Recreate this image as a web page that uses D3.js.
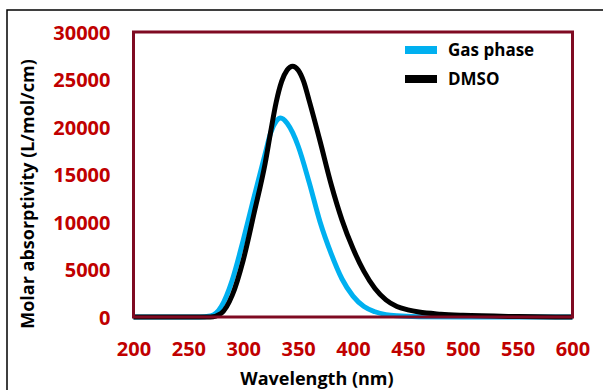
<!DOCTYPE html>
<html><head><meta charset="utf-8">
<script src="https://cdn.jsdelivr.net/npm/d3@7"></script>
<style>body{margin:0;background:#fff}svg{display:block}text{font-family:"Open Sans",sans-serif;font-weight:bold}</style>
</head><body>
<script>
const xTicks = [200,250,300,350,400,450,500,550,600];
const yTicks = [0,5000,10000,15000,20000,25000,30000];
const gasWl  = [200,260,270,280,290,300,310,320,325,330,334,340,345,350,360,370,380,390,400,410,420,430,440,460,500,600];
const gasVal = [0,0,100,1100,3900,8100,12700,17200,19400,20600,20950,20400,19400,18000,14200,10000,6700,4000,2200,1100,550,250,120,30,0,0];
const dmsoWl  = [200,270,280,290,300,310,320,325,330,335,340,345,350,355,360,370,380,390,400,410,420,430,440,450,460,480,500,550,600];
const dmsoVal = [0,0,400,2300,6000,11000,16200,19500,22600,24800,26000,26400,26000,24800,22800,18500,14000,10200,7200,4800,3000,1800,1100,750,520,300,180,50,0];
const seriesNames = ["Gas phase","DMSO"];
const colors = ["#00b0f0","#000000"];

const W=603,H=390;
const svg=d3.select("body").append("svg").attr("width",W).attr("height",H);
// outer border
svg.append("path").attr("d","M7,390 L7,10 L603,10").attr("fill","none").attr("stroke","#000").attr("stroke-width",1.5);

const x=d3.scaleLinear().domain([200,600]).range([133.5,572.5]);
const y=d3.scaleLinear().domain([0,30000]).range([317,32]);

const line=d3.line().x(d=>x(d[0])).y(d=>y(d[1])).curve(d3.curveMonotoneX);
const data=[d3.zip(gasWl,gasVal), d3.zip(dmsoWl,dmsoVal)];

// curves
data.forEach((d,i)=>{
  svg.append("path").datum(d).attr("d",line).attr("fill","none")
    .attr("stroke",colors[i]).attr("stroke-width",5).attr("stroke-linejoin","round");
});

// plot frame
svg.append("rect").attr("x",x(200)).attr("y",y(30000)).attr("width",x(600)-x(200)).attr("height",y(0)-y(30000))
  .attr("fill","none").attr("stroke","#7f0a22").attr("stroke-width",3);

// axes
const xAxis=svg.append("g").attr("transform",`translate(0,${y(0)})`).call(d3.axisBottom(x).tickValues(xTicks).tickSize(0).tickPadding(24));
const yAxis=svg.append("g").attr("transform",`translate(${x(200)},0)`).call(d3.axisLeft(y).tickValues(yTicks).tickSize(0).tickPadding(23).tickFormat(d3.format("d")));
[xAxis,yAxis].forEach(a=>{a.select(".domain").remove();a.selectAll("text").attr("fill","#c00000").attr("font-size",20).attr("font-family","Open Sans").attr("font-weight","bold");});
xAxis.selectAll("text").attr("dy",null).attr("y",39);
yAxis.selectAll("text").attr("dy","0.35em");

// axis titles
svg.append("text").attr("x",317).attr("y",385).attr("text-anchor","middle").attr("font-size",18).attr("fill","#000").text("Wavelength (nm)");
svg.append("text").attr("transform","translate(34,194) rotate(-90)").attr("text-anchor","middle").attr("font-size",18).attr("fill","#000").text("Molar absorptivity (L/mol/cm)");

// legend
seriesNames.forEach((n,i)=>{
  const cy=50+i*29;
  svg.append("rect").attr("x",405).attr("y",cy-4).attr("width",32).attr("height",8).attr("fill",colors[i]);
  svg.append("text").attr("x",448).attr("y",cy+6).attr("font-size",17).attr("fill","#000").text(n);
});
</script>
</body></html>
